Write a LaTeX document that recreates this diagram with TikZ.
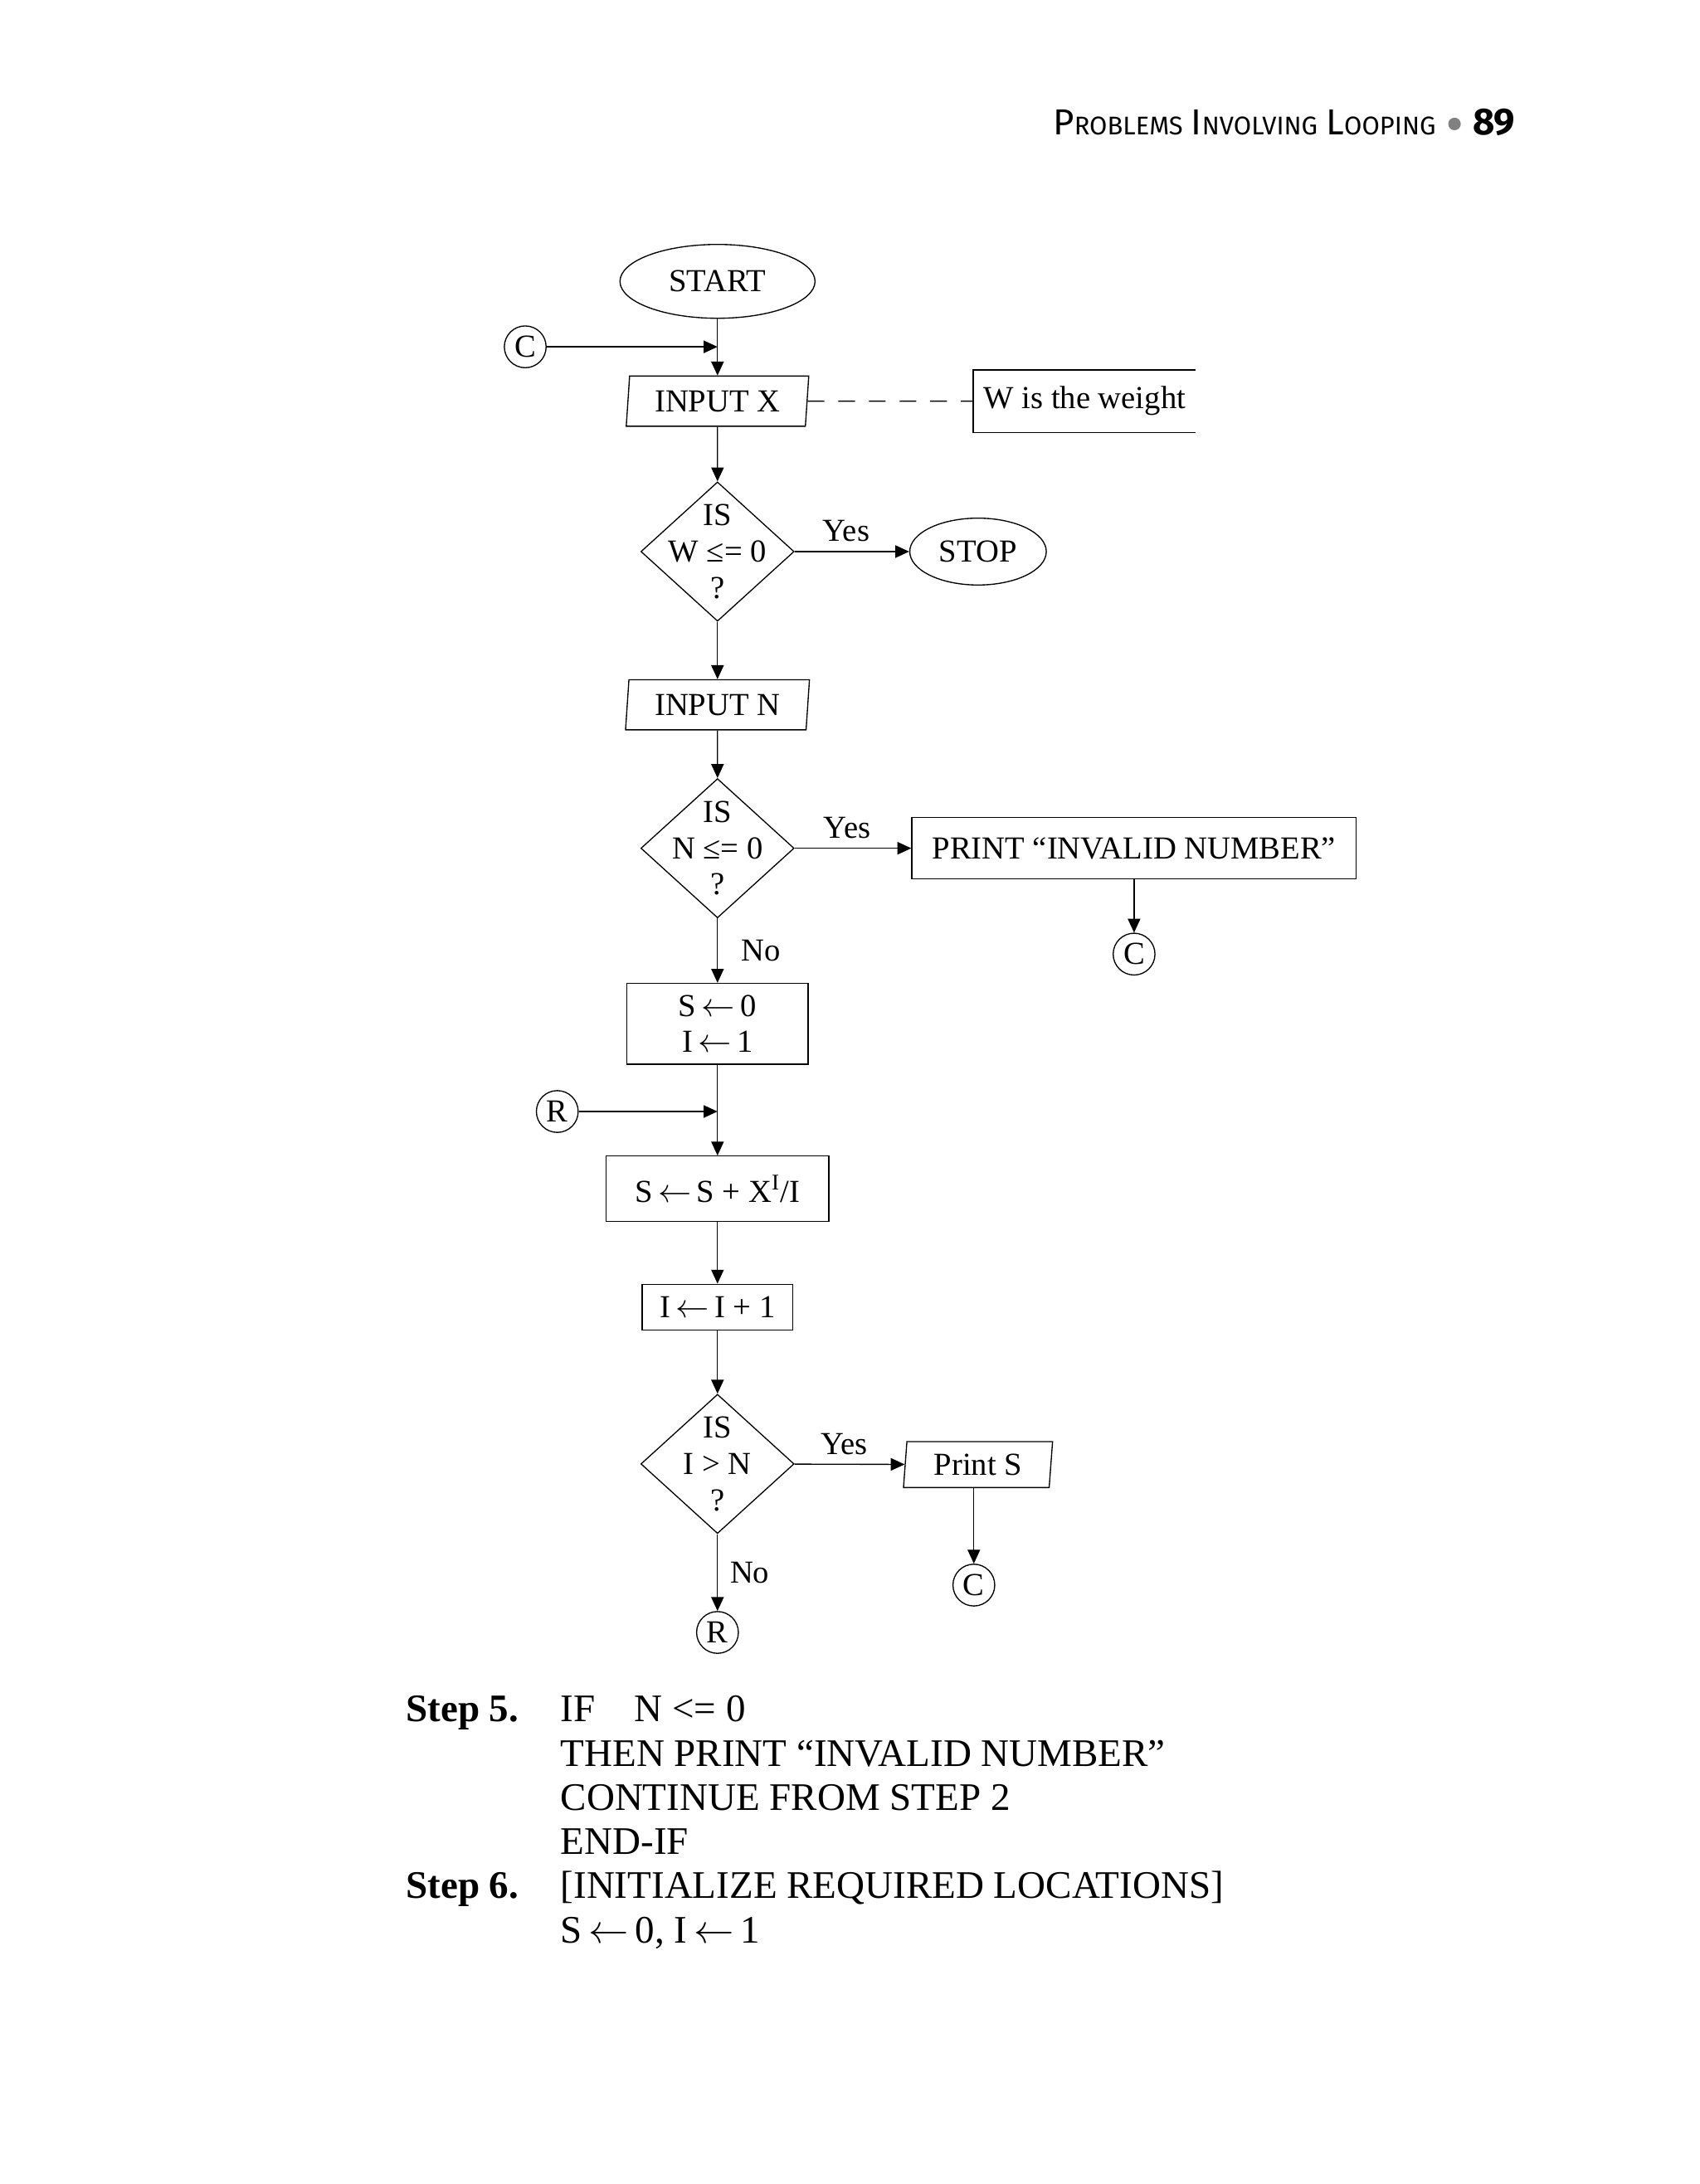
\documentclass[tikz,border=0pt]{standalone}
\usepackage{fontspec}
\setmainfont{Liberation Serif}
\newfontfamily\hdrfont{Fira Sans}
\usetikzlibrary{arrows.meta}
\usetikzlibrary{shapes.geometric}
\tikzset{>={Triangle[length=5pt, width=4.5pt]}, line width=0.6pt}
\tikzset{
  term/.style = {ellipse, draw, inner sep=0pt},
  io/.style = {trapezium, draw, trapezium left angle=81, trapezium right angle=99,
               trapezium stretches body, inner sep=0pt},
  proc/.style = {rectangle, draw, inner sep=0pt, align=center},
  test/.style = {diamond, draw, inner sep=0pt, minimum width=55pt, minimum height=50pt},
  testtext/.style = {align=center},
  conn/.style = {circle, draw, inner sep=0pt, minimum size=15pt},
  steptext/.style = {anchor=base west, inner sep=0pt, font=\fontsize{14}{17}\selectfont},
}
\newcommand{\hsc}[2]{{\fontsize{13}{15}\selectfont #1}{\fontsize{9.2}{11}\selectfont #2}}
\newcommand{\getsarrow}{\,$\leftarrow$\,}

\begin{document}
\begin{tikzpicture}[x=0.5pt, y=-0.5pt, font=\fontsize{11.5}{13}\selectfont]
  \useasboundingbox (0,0) rectangle (1220,1568);
  % header
  \node (hdr) [anchor=base east, inner sep=0pt] at (1031,97)
    {\hdrfont\hsc{P}{ROBLEMS} \hsc{I}{NVOLVING} \hsc{L}{OOPING}};
  \node (hdrdot) [circle, fill=gray, inner sep=0pt, minimum size=4.5pt] at (1044,89) {};
  \node (hdrnum) [anchor=base east, inner sep=0pt] at (1088,97)
    {\hdrfont\bfseries\fontsize{13.5}{16}\selectfont 89};
  % nodes
  \node (start) [term, minimum width=70pt, minimum height=26.5pt] at (515,202) {START};
  \node (c1) [conn] at (377,249) {C};
  \coordinate (cj) at (515,249);
  \node (inx) [io, minimum width=65.5pt, minimum height=18pt] at (515,288) {INPUT X};
  \node (wnote) [minimum width=79.5pt, minimum height=22pt, inner sep=0pt] at (778.5,288) {W is the weight};
  \node (d1) [test] at (515,396) {};
  \node (d1txt) [testtext] at (d1) {IS\\W ≤= 0\\?};
  \node (stop) [term, minimum width=49pt, minimum height=24pt] at (702,396) {STOP};
  \node (inn) [io, minimum width=66pt, minimum height=18pt] at (515,506) {INPUT N};
  \node (d2) [test] at (515,609) {};
  \node (d2txt) [testtext] at (d2) {IS\\N ≤= 0\\?};
  \node (prt) [proc, minimum width=159.5pt, minimum height=22pt] at (814,609) {PRINT “INVALID NUMBER”};
  \node (c2) [conn] at (814,685) {C};
  \node (init) [proc, minimum width=65pt, minimum height=29pt] at (515,735) {S\getsarrow 0\\I\getsarrow 1};
  \node (r1) [conn] at (400,798) {R};
  \coordinate (rj) at (515,798);
  \node (sum) [proc, minimum width=80pt, minimum height=23.5pt] at (515,853.5) {S\getsarrow S + X\textsuperscript{I}/I};
  \node (inc) [proc, minimum width=54pt, minimum height=16.5pt] at (515,938.5) {I\getsarrow I + 1};
  \node (d3) [test] at (515,1051) {};
  \node (d3txt) [testtext] at (d3) {IS\\I > N\\?};
  \node (ps) [io, minimum width=53.5pt, minimum height=16.5pt] at (702,1051.5) {Print S};
  \node (c3) [conn] at (699,1138) {C};
  \node (r2) [conn] at (515,1172) {R};
  % edges
  \draw [->] (start) -- (inx);
  \draw [->] (c1) -- (cj);
  \draw [dash pattern=on 6pt off 5pt] (inx.east) -- (wnote.west);
  \draw (wnote.north east) -- (wnote.north west) -- (wnote.south west) -- (wnote.south east);
  \draw [->] (inx) -- (d1);
  \draw [->] (d1) -- node [above, pos=0.45] {Yes} (stop);
  \draw [->] (d1) -- (inn);
  \draw [->] (inn) -- (d2);
  \draw [->] (d2) -- node [above, pos=0.45] {Yes} (prt);
  \draw [->] (prt) -- (c2);
  \draw [->] (d2) -- node [right, xshift=5pt] {No} (init);
  \draw [->] (init) -- (sum);
  \draw [->] (r1) -- (rj);
  \draw [->] (sum) -- (inc);
  \draw [->] (inc) -- (d3);
  \draw [->] (d3) -- node [above, pos=0.45] {Yes} (ps);
  \draw [->] (c3 |- ps.south) -- (c3);
  \draw [->] (d3) -- node [right, xshift=1pt] {No} (r2);
  % steps
  \node (s5lbl) [steptext] at (291,1236) {\bfseries Step 5.};
  \node (s5a) [steptext] at (402,1236) {IF\quad N <= 0};
  \node (s5b) [steptext] at (402,1268) {THEN PRINT “INVALID NUMBER”};
  \node (s5c) [steptext] at (402,1300) {CONTINUE FROM STEP 2};
  \node (s5d) [steptext] at (402,1331) {END-IF};
  \node (s6lbl) [steptext] at (291,1363) {\bfseries Step 6.};
  \node (s6a) [steptext] at (402,1363) {[INITIALIZE REQUIRED LOCATIONS]};
  \node (s6b) [steptext] at (402,1395) {S\getsarrow 0, I\getsarrow 1};
\end{tikzpicture}
\end{document}
